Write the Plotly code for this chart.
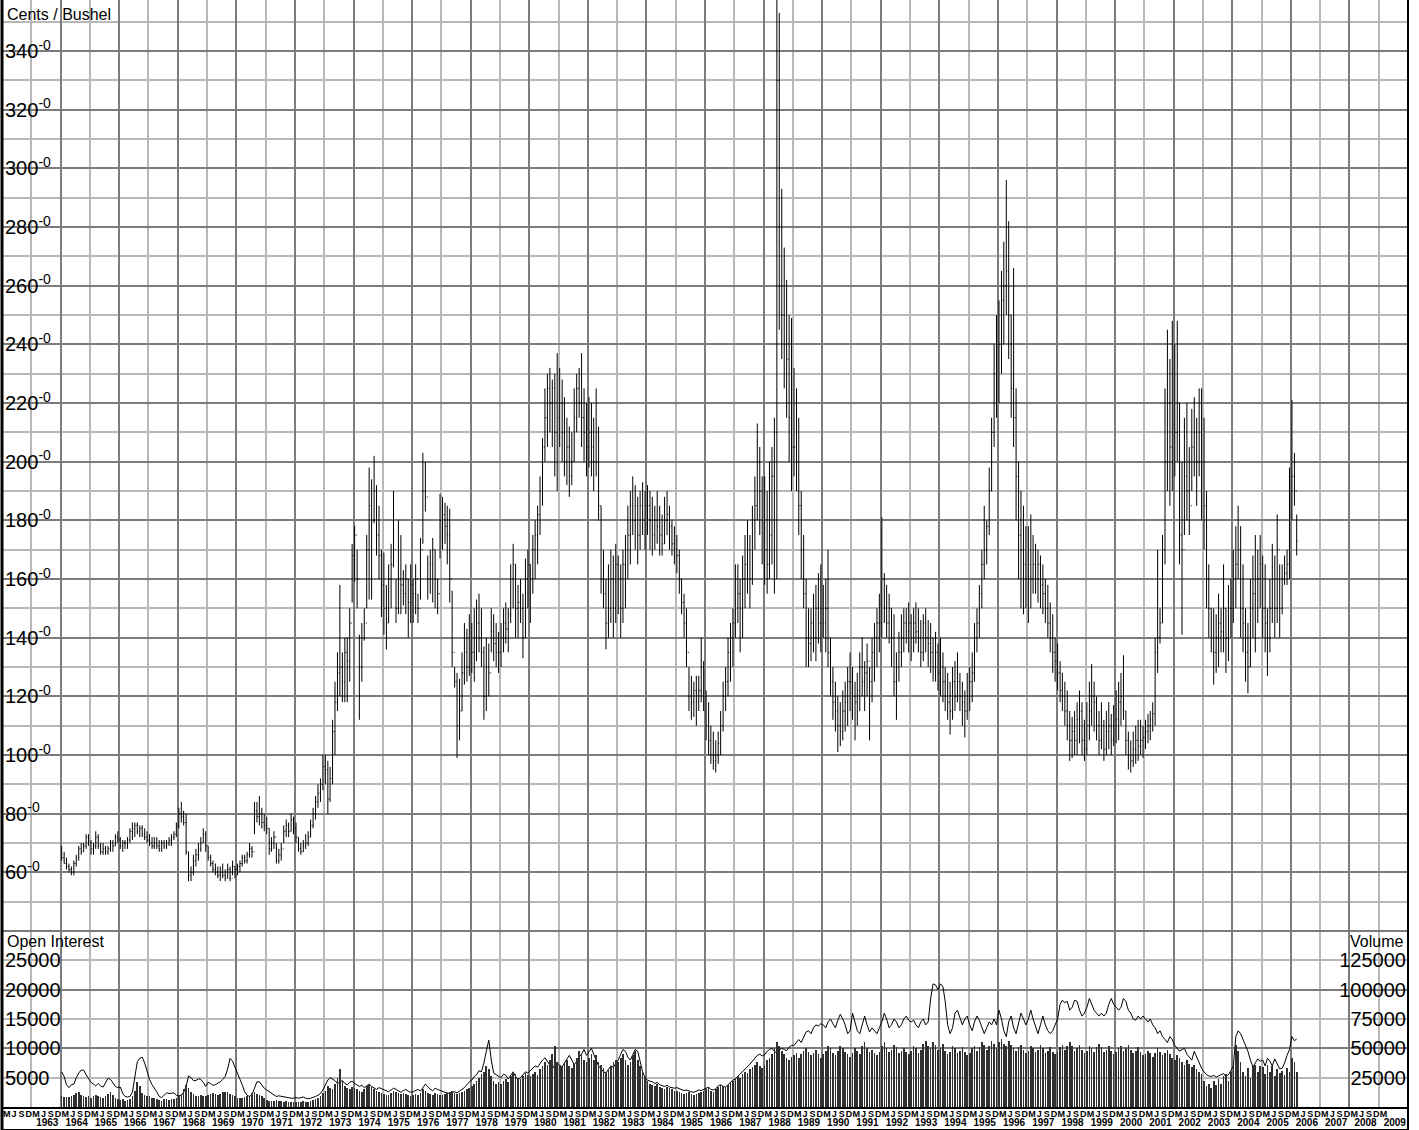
import pandas as pd
import plotly.graph_objects as go

# ---------------- data (monthly, Jan 1964 .. Mar 2006) ----------------
HIGH = [
    69, 67, 65, 63, 62, 64, 66, 69, 70, 70, 73, 73,            # 1964
    71, 70, 74, 73, 70, 70, 69, 69, 71, 71, 73, 74,            # 1965
    72, 71, 71, 72, 75, 77, 77, 77, 76, 76, 75, 74,            # 1966
    73, 72, 72, 72, 71, 71, 71, 71, 72, 73, 74, 77,            # 1967
    82, 84, 81, 80, 67, 62, 66, 68, 70, 72, 75, 74,            # 1968
    69, 66, 64, 63, 62, 62, 63, 61, 63, 62, 64, 62,            # 1969
    63, 64, 66, 66, 67, 70, 69, 84, 84, 86, 82, 80,            # 1970
    79, 75, 72, 74, 70, 68, 70, 76, 78, 77, 80, 79,            # 1971
    77, 72, 70, 71, 73, 74, 78, 82, 86, 90, 92, 100,           # 1972
    100, 98, 96, 112, 125, 135, 158, 135, 140, 140, 150, 172,  # 1973
    178, 170, 141, 145, 150, 175, 198, 194, 202, 192, 185, 170,  # 1974
    169, 158, 165, 172, 190, 160, 180, 175, 163, 165, 160, 165,  # 1975
    160, 165, 155, 174, 203, 200, 168, 170, 174, 170, 160, 189,  # 1976
    188, 186, 185, 184, 156, 130, 128, 126, 135, 145, 143, 148,  # 1977
    145, 150, 153, 155, 150, 137, 140, 138, 150, 148, 145, 142,  # 1978
    145, 150, 152, 150, 165, 172, 165, 158, 160, 155, 167, 170,  # 1979
    165, 175, 180, 185, 195, 208, 225, 230, 232, 228, 230, 237,  # 1980
    232, 228, 222, 215, 212, 210, 225, 230, 232, 237, 225, 220,  # 1981
    222, 220, 215, 225, 212, 185, 170, 160, 165, 170, 168, 172,  # 1982
    168, 165, 170, 175, 185, 190, 195, 192, 188, 190, 193, 190,  # 1983
    192, 190, 188, 185, 190, 185, 182, 188, 190, 185, 180, 178,  # 1984
    175, 170, 160, 155, 150, 130, 127, 125, 127, 127, 140, 132,  # 1985
    122, 118, 110, 108, 105, 108, 115, 125, 130, 140, 145, 150,  # 1986
    165, 165, 160, 168, 175, 180, 175, 185, 195, 213, 205, 195,  # 1987
    195, 190, 200, 205, 215, 370, 353, 293, 273, 262, 250, 249,  # 1988
    232, 225, 215, 190, 175, 160, 150, 150, 155, 158, 162, 165,  # 1989
    158, 160, 170, 140, 130, 125, 120, 118, 122, 125, 130, 135,  # 1990
    130, 125, 128, 135, 140, 132, 138, 130, 140, 145, 150, 155,  # 1991
    181, 162, 158, 155, 150, 148, 135, 142, 148, 150, 150, 152,  # 1992
    148, 150, 152, 150, 146, 148, 150, 146, 145, 140, 142, 138,  # 1993
    140, 135, 130, 128, 125, 130, 132, 135, 128, 125, 122, 128,  # 1994
    130, 135, 145, 150, 158, 170, 185, 180, 198, 215, 240, 250,  # 1995
    255, 265, 275, 296, 282, 250, 266, 225, 200, 190, 185, 178,  # 1996
    178, 182, 175, 172, 170, 168, 165, 160, 158, 152, 148, 140,  # 1997
    138, 132, 128, 125, 122, 115, 113, 115, 118, 122, 118, 112,  # 1998
    118, 125, 131, 125, 120, 115, 118, 112, 115, 118, 114, 117,  # 1999
    122, 125, 128, 134, 115, 108, 105, 108, 110, 112, 112, 110,  # 2000
    112, 114, 115, 118, 140, 170, 150, 175, 225, 245, 235, 248,  # 2001
    240, 248, 220, 200, 215, 220, 205, 218, 222, 215, 225, 225,  # 2002
    215, 190, 165, 150, 150, 148, 155, 150, 165, 150, 158, 160,  # 2003
    170, 178, 185, 178, 165, 150, 145, 160, 168, 175, 170, 175,  # 2004
    168, 165, 150, 160, 172, 168, 182, 165, 165, 168, 170, 198,  # 2005
    221, 203, 182,                                              # 2006
]
LOW = [
    64, 63, 61, 60, 59, 59, 62, 64, 66, 67, 68, 69,            # 1964
    66, 66, 68, 68, 66, 66, 66, 66, 67, 67, 69, 70,            # 1965
    68, 67, 68, 68, 70, 71, 72, 73, 72, 72, 71, 70,            # 1966
    69, 68, 68, 68, 67, 67, 68, 68, 69, 69, 71, 72,            # 1967
    75, 77, 76, 66, 57, 57, 59, 62, 64, 67, 70, 67,            # 1968
    64, 62, 60, 59, 58, 57, 58, 57, 58, 57, 59, 58,            # 1969
    59, 60, 62, 63, 63, 65, 65, 73, 77, 76, 75, 74,            # 1970
    73, 66, 67, 68, 63, 63, 64, 70, 72, 72, 74, 73,            # 1971
    70, 67, 66, 67, 68, 69, 72, 75, 78, 82, 84, 88,            # 1972
    90, 80, 84, 90, 100, 115, 120, 118, 118, 118, 125, 152,    # 1973
    159, 150, 112, 125, 139, 150, 153, 153, 179, 168, 160, 147,  # 1974
    141, 136, 145, 150, 164, 145, 148, 148, 151, 148, 140, 145,  # 1975
    145, 148, 145, 153, 172, 183, 153, 155, 152, 150, 148, 167,  # 1976
    170, 172, 165, 152, 130, 123, 99, 105, 115, 124, 125, 127,   # 1977
    128, 125, 132, 135, 130, 112, 115, 120, 135, 132, 130, 128,  # 1978
    130, 135, 138, 135, 145, 150, 140, 140, 145, 133, 140, 150,  # 1979
    145, 155, 160, 165, 175, 185, 200, 205, 210, 205, 195, 190,  # 1980
    205, 200, 195, 192, 188, 192, 200, 210, 215, 205, 200, 195,  # 1981
    198, 195, 190, 195, 180, 155, 150, 136, 140, 145, 140, 145,  # 1982
    148, 140, 145, 150, 160, 165, 175, 170, 165, 170, 175, 170,  # 1983
    175, 170, 168, 170, 172, 168, 168, 172, 175, 170, 168, 165,  # 1984
    162, 155, 148, 140, 130, 115, 112, 113, 110, 115, 118, 115,  # 1985
    105, 100, 97, 95, 94, 97, 100, 108, 115, 120, 125, 130,      # 1986
    140, 145, 135, 140, 150, 155, 150, 158, 170, 180, 175, 165,  # 1987
    158, 155, 160, 165, 155, 160, 245, 235, 225, 215, 200, 190,  # 1988
    195, 190, 175, 160, 150, 130, 130, 132, 135, 132, 138, 135,  # 1989
    140, 135, 130, 120, 112, 108, 101, 103, 105, 108, 110, 115,  # 1990
    112, 105, 110, 115, 120, 115, 120, 105, 118, 125, 130, 135,  # 1991
    140, 145, 140, 138, 130, 120, 112, 125, 130, 135, 138, 135,  # 1992
    132, 135, 138, 135, 130, 132, 135, 130, 128, 125, 125, 122,  # 1993
    120, 118, 115, 112, 107, 112, 115, 118, 115, 110, 106, 112,  # 1994
    115, 118, 125, 135, 140, 150, 160, 165, 175, 190, 205, 215,  # 1995
    220, 230, 240, 250, 235, 215, 205, 180, 160, 150, 148, 150,  # 1996
    145, 150, 155, 155, 152, 150, 148, 145, 140, 135, 128, 125,  # 1997
    122, 118, 115, 110, 105, 98, 99, 100, 100, 104, 100, 98,     # 1998
    100, 105, 110, 108, 105, 100, 102, 98, 100, 102, 100, 103,   # 1999
    104, 105, 110, 112, 100, 95, 94, 96, 97, 98, 100, 99,        # 2000
    102, 104, 105, 108, 110, 128, 138, 145, 165, 190, 185, 190,  # 2001
    195, 200, 165, 141, 175, 180, 175, 190, 195, 185, 195, 180,  # 2002
    170, 150, 140, 135, 124, 128, 130, 135, 135, 128, 132, 140,  # 2003
    145, 150, 160, 140, 135, 125, 121, 130, 140, 135, 145, 150,  # 2004
    140, 135, 127, 135, 145, 140, 145, 140, 148, 158, 158, 160,  # 2005
    180, 185, 168,                                              # 2006
]
CLOSE = [
    65, 63, 62, 61, 60, 63, 65, 68, 67, 69, 72, 70,            # 1964
    68, 69, 72, 69, 67, 68, 67, 68, 70, 69, 72, 71,            # 1965
    69, 70, 70, 71, 74, 75, 76, 74, 75, 73, 72, 71,            # 1966
    70, 69, 70, 69, 68, 70, 69, 70, 71, 72, 73, 76,            # 1967
    80, 79, 77, 67, 59, 60, 64, 66, 68, 70, 73, 69,            # 1968
    65, 63, 61, 60, 59, 60, 59, 58, 61, 58, 62, 61,            # 1969
    62, 63, 65, 64, 66, 68, 67, 81, 79, 80, 77, 76,            # 1970
    75, 68, 70, 72, 64, 66, 68, 74, 76, 74, 78, 75,            # 1971
    72, 68, 67, 69, 70, 72, 76, 80, 84, 87, 90, 96,            # 1972
    95, 85, 92, 108, 118, 128, 130, 125, 135, 132, 145, 168,   # 1973
    175, 160, 130, 140, 145, 170, 185, 180, 190, 175, 168, 158,  # 1974
    150, 145, 160, 165, 170, 150, 160, 158, 155, 160, 152, 158,  # 1975
    155, 160, 150, 170, 190, 188, 160, 165, 170, 160, 155, 180,  # 1976
    182, 178, 175, 160, 135, 125, 110, 115, 128, 135, 130, 140,  # 1977
    135, 140, 145, 140, 135, 120, 130, 128, 142, 138, 135, 135,  # 1978
    140, 145, 143, 148, 160, 165, 150, 152, 150, 140, 160, 165,  # 1979
    160, 170, 175, 182, 190, 205, 215, 225, 220, 225, 210, 215,  # 1980
    220, 210, 200, 205, 195, 200, 215, 225, 220, 215, 210, 205,  # 1981
    210, 205, 200, 210, 185, 160, 155, 145, 150, 160, 150, 165,  # 1982
    160, 150, 165, 170, 175, 185, 180, 185, 175, 185, 180, 185,  # 1983
    185, 180, 175, 180, 178, 175, 172, 180, 182, 178, 172, 170,  # 1984
    168, 160, 152, 145, 135, 120, 118, 122, 118, 122, 130, 120,  # 1985
    110, 105, 100, 98, 100, 104, 110, 120, 125, 135, 140, 145,   # 1986
    160, 155, 150, 160, 165, 170, 160, 180, 185, 200, 190, 180,  # 1987
    170, 165, 175, 195, 210, 330, 260, 250, 240, 235, 215, 205,  # 1988
    205, 200, 185, 170, 155, 140, 138, 145, 140, 150, 145, 150,  # 1989
    145, 150, 135, 125, 118, 115, 110, 108, 115, 118, 125, 125,  # 1990
    120, 118, 122, 130, 125, 128, 132, 125, 135, 140, 145, 145,  # 1991
    160, 150, 145, 150, 140, 125, 130, 135, 140, 145, 142, 145,  # 1992
    140, 145, 142, 140, 135, 145, 140, 138, 135, 130, 135, 128,  # 1993
    130, 125, 120, 118, 115, 125, 120, 125, 120, 118, 115, 120,  # 1994
    125, 128, 140, 145, 155, 165, 170, 178, 190, 210, 230, 240,  # 1995
    240, 255, 260, 265, 250, 225, 215, 195, 175, 170, 165, 160,  # 1996
    165, 160, 165, 160, 165, 158, 155, 150, 145, 140, 135, 132,  # 1997
    128, 122, 120, 115, 110, 105, 108, 105, 112, 115, 105, 102,  # 1998
    110, 115, 120, 118, 110, 105, 110, 102, 108, 110, 105, 110,  # 1999
    112, 118, 120, 115, 105, 100, 98, 102, 105, 103, 105, 106,   # 2000
    108, 110, 112, 114, 135, 140, 145, 170, 200, 220, 205, 230,  # 2001
    210, 220, 175, 170, 195, 190, 185, 205, 210, 200, 210, 200,  # 2002
    185, 160, 150, 140, 135, 140, 145, 142, 150, 140, 150, 150,  # 2003
    160, 165, 170, 150, 145, 135, 130, 150, 155, 160, 160, 165,  # 2004
    150, 145, 140, 150, 160, 150, 170, 150, 160, 162, 165, 190,  # 2005
    195, 190, 173,                                              # 2006
]
OPEN_INTEREST = [
    6000, 5200, 3800, 3300, 3800, 3900, 5000, 5800, 6300, 6300, 5500, 4800,          # 1964
    4200, 3900, 3600, 4000, 3600, 3400, 4200, 4900, 4700, 4000, 3500, 3300,          # 1965
    3400, 2300, 1800, 1700, 1800, 2500, 5000, 7700, 8300, 8500, 7500, 6000,          # 1966
    4700, 3800, 3300, 2600, 1800, 1600, 2000, 2400, 2300, 2300, 2400, 2000,          # 1967
    1900, 2000, 2500, 3500, 5300, 5000, 4500, 4500, 4800, 4700, 4200, 3500,          # 1968
    4200, 4000, 3700, 3800, 4000, 4300, 4700, 5200, 6500, 8300, 7800, 6800,          # 1969
    6000, 5000, 3800, 2600, 2000, 1800, 2100, 3200, 4300, 4300, 3800, 3200,          # 1970
    2900, 2600, 2400, 2100, 1800, 1900, 1800, 1700, 1700, 1600, 1500, 1500,          # 1971
    1600, 1500, 1600, 1700, 1500, 1400, 1500, 1600, 1800, 2000, 2300, 2900,          # 1972
    3800, 4600, 5000, 4800, 4500, 4000, 4300, 4500, 4000, 3800, 4200, 4400,          # 1973
    4000, 3800, 3500, 3700, 3300, 3600, 3900, 3500, 3200, 3000, 3300, 3100,          # 1974
    2900, 2700, 2600, 2900, 3200, 3000, 2700, 2500, 2800, 3000, 2700, 2500,          # 1975
    2600, 2800, 3000, 2700, 3300, 3900, 3500, 3000, 2800, 3200, 3000, 2800,          # 1976
    2600, 2500, 2400, 2300, 2500, 2600, 2400, 2700, 3000, 3300, 3800, 4300,          # 1977
    4600, 5200, 5500, 6200, 6000, 7500, 9500, 11400, 8000, 5800, 5500, 5300,         # 1978
    5000, 5600, 5400, 4800, 5500, 6000, 5200, 4600, 5000, 5600, 6000, 5800,          # 1979
    6200, 6500, 7000, 6800, 7500, 8000, 8400, 7800, 7000, 6500, 7200, 7600,          # 1980
    7000, 6800, 7500, 8200, 8800, 8000, 7200, 7800, 8600, 9000, 9800, 8800,          # 1981
    9500, 10000, 9000, 8000, 7000, 6500, 6000, 5800, 6500, 7000, 6800, 7500,         # 1982
    8000, 9000, 9800, 9500, 8500, 8000, 9000, 9800, 9500, 8000, 6000, 5000,          # 1983
    4600, 4400, 4300, 4000, 4200, 3800, 3600, 3500, 3700, 3400, 3300, 3200,          # 1984
    3300, 3100, 2900, 2800, 2900, 2700, 2600, 2500, 2700, 2900, 2800, 3000,          # 1985
    3200, 3400, 3000, 2900, 3100, 3600, 3800, 3500, 3400, 3800, 4200, 4600,          # 1986
    4800, 5200, 5600, 6000, 6500, 6800, 7300, 7800, 8300, 8800, 9000, 8700,          # 1987
    8900, 9500, 9800, 10000, 9500, 9200, 9700, 10000, 9800, 9600, 10200, 10500,      # 1988
    10500, 11000, 11500, 11000, 12000, 12800, 13000, 12500, 13500, 14000, 13800, 14200,  # 1989
    14000, 13500, 14500, 15000, 14200, 13500, 14800, 15800, 15000, 14000, 12500, 13000,  # 1990
    16000, 14500, 13000, 12500, 14000, 15500, 14000, 12800, 13500, 13000, 12500, 13500,  # 1991
    14500, 16000, 15000, 13500, 14000, 15000, 14500, 13500, 14000, 15000, 15500, 14800,  # 1992
    14500, 14800, 14000, 13500, 14500, 15000, 14000, 14500, 18500, 21000, 20800, 20000,  # 1993
    21000, 20500, 18000, 14000, 12500, 13500, 16000, 16500, 15000, 14000, 15000, 15500,  # 1994
    14000, 13000, 14500, 15500, 14800, 13500, 12500, 13500, 14500, 14000, 15000, 14000,  # 1995
    16500, 15000, 13000, 12000, 14500, 15500, 13500, 12500, 14500, 16000, 15000, 14000,  # 1996
    15000, 16500, 15000, 13500, 12500, 14000, 15500, 14000, 13000, 12500, 13000, 14000,  # 1997
    15000, 17500, 18200, 17800, 18000, 16500, 17000, 18200, 18000, 16500, 15500, 16000,  # 1998
    17000, 18500, 17500, 16500, 16000, 15500, 16000, 15500, 16000, 17500, 18500, 17500,  # 1999
    17000, 16500, 17000, 18500, 18000, 16500, 16000, 15000, 14800, 15500, 15000, 15500,  # 2000
    15000, 14500, 15000, 14000, 13500, 12500, 13000, 12000, 11500, 11000, 12000, 11500,  # 2001
    10500, 10000, 9500, 9800, 10000, 9000, 8500, 8000, 9500, 8500, 7500, 6600,       # 2002
    6000, 5500, 5300, 5200, 5400, 5100, 5300, 5500, 5700, 5200, 5500, 6200,          # 2003
    7000, 12000, 13000, 12500, 11500, 10500, 9500, 8000, 6800, 7500, 8200, 7800,     # 2004
    8000, 7000, 8300, 7800, 7000, 8200, 7200, 6500, 6600, 7500, 8800, 9800,          # 2005
    12000, 11300, 11600,                                                             # 2006
]
VOLUME = [
    9000, 8500, 8200, 8800, 9500, 10500, 12000, 12500, 10000, 9000, 8500, 9000,      # 1964
    8000, 9500, 10500, 9000, 8500, 8000, 9000, 11000, 12500, 10000, 8000, 7000,      # 1965
    6000, 6500, 5500, 6000, 7000, 9000, 14000, 21000, 18000, 12000, 10000, 9000,     # 1966
    9000, 8000, 7500, 7000, 6000, 5500, 6500, 7000, 6000, 6500, 7000, 8000,          # 1967
    9000, 11000, 15000, 19000, 16000, 13000, 11000, 9500, 9000, 10000, 9500, 9000,   # 1968
    10000, 11000, 12000, 11000, 10500, 11500, 12500, 13000, 12500, 11000, 10000, 9000,  # 1969
    8000, 7500, 8000, 8500, 9000, 9500, 12000, 13000, 11000, 10000, 9000, 8000,      # 1970
    6000, 5500, 5000, 5500, 6000, 5500, 5000, 4500, 5000, 4500, 4000, 4500,          # 1971
    4500, 4000, 4500, 5000, 4500, 4000, 5000, 6000, 7000, 8000, 9000, 12000,         # 1972
    14000, 18000, 16000, 15000, 20000, 25000, 32000, 22000, 18000, 16000, 15000, 17000,  # 1973
    16000, 15000, 14000, 13000, 15000, 18000, 20000, 17000, 15000, 14000, 13000, 12000,  # 1974
    11000, 10000, 10500, 12000, 14000, 13000, 12000, 11000, 12000, 11000, 10000, 9500,   # 1975
    10000, 11000, 10500, 12000, 15000, 14000, 12000, 11000, 10500, 12000, 11000, 10000,  # 1976
    10000, 11000, 12000, 13000, 14000, 12000, 11000, 12000, 13000, 14000, 15000, 16000,  # 1977
    18000, 20000, 22000, 25000, 28000, 30000, 35000, 32000, 26000, 22000, 20000, 21000,  # 1978
    20000, 22000, 24000, 21000, 26000, 30000, 28000, 25000, 24000, 26000, 29000, 27000,  # 1979
    26000, 28000, 30000, 27000, 32000, 35000, 38000, 36000, 40000, 45000, 52000, 38000,  # 1980
    36000, 34000, 38000, 40000, 35000, 33000, 37000, 42000, 48000, 45000, 40000, 38000,  # 1981
    42000, 45000, 40000, 44000, 38000, 36000, 33000, 30000, 32000, 35000, 38000, 40000,  # 1982
    38000, 42000, 45000, 40000, 36000, 38000, 44000, 48000, 40000, 35000, 30000, 26000,  # 1983
    22000, 20000, 19000, 18000, 20000, 17000, 16000, 15000, 17000, 16000, 15000, 14000,  # 1984
    14000, 13000, 12000, 11000, 12000, 13000, 11000, 10000, 11000, 12000, 13000, 14000,  # 1985
    15000, 16000, 14000, 13000, 15000, 17000, 19000, 18000, 17000, 19000, 21000, 22000,  # 1986
    24000, 26000, 25000, 28000, 30000, 29000, 32000, 34000, 36000, 38000, 35000, 33000,  # 1987
    36000, 40000, 42000, 45000, 50000, 55000, 52000, 48000, 45000, 42000, 40000, 43000,  # 1988
    44000, 46000, 42000, 45000, 48000, 50000, 47000, 44000, 46000, 49000, 45000, 42000,  # 1989
    45000, 48000, 52000, 50000, 46000, 44000, 48000, 52000, 50000, 47000, 45000, 43000,  # 1990
    46000, 50000, 48000, 45000, 52000, 55000, 50000, 47000, 49000, 46000, 44000, 47000,  # 1991
    52000, 55000, 50000, 47000, 49000, 53000, 51000, 46000, 48000, 50000, 47000, 45000,  # 1992
    48000, 52000, 50000, 46000, 49000, 54000, 56000, 52000, 50000, 55000, 53000, 49000,  # 1993
    50000, 54000, 48000, 45000, 47000, 52000, 50000, 46000, 48000, 51000, 47000, 44000,  # 1994
    46000, 50000, 52000, 48000, 51000, 55000, 53000, 49000, 52000, 56000, 54000, 50000,  # 1995
    55000, 58000, 54000, 52000, 56000, 53000, 50000, 48000, 51000, 53000, 49000, 46000,  # 1996
    48000, 52000, 50000, 47000, 49000, 53000, 50000, 46000, 48000, 51000, 47000, 45000,  # 1997
    47000, 51000, 53000, 49000, 52000, 55000, 52000, 48000, 50000, 53000, 49000, 46000,  # 1998
    48000, 52000, 50000, 47000, 51000, 54000, 51000, 47000, 49000, 52000, 48000, 45000,  # 1999
    47000, 50000, 52000, 48000, 50000, 53000, 49000, 46000, 48000, 51000, 47000, 44000,  # 2000
    45000, 48000, 46000, 43000, 46000, 50000, 47000, 44000, 46000, 49000, 45000, 42000,  # 2001
    40000, 44000, 42000, 38000, 36000, 40000, 37000, 34000, 36000, 32000, 30000, 28000,  # 2002
    22000, 18000, 20000, 16000, 22000, 19000, 24000, 20000, 26000, 28000, 22000, 30000,  # 2003
    35000, 53000, 48000, 38000, 30000, 26000, 33000, 25000, 34000, 36000, 30000, 35000,  # 2004
    34000, 28000, 36000, 30000, 35000, 26000, 32000, 29000, 31000, 27000, 33000, 30000,  # 2005
    42000, 38000, 30000,                                                             # 2006
]

PRICE_TICKS = list(range(60, 341, 20))
OI_TICKS = [5000, 10000, 15000, 20000, 25000]
VOL_TICKS = [25000, 50000, 75000, 100000, 125000]
MONTH_LETTERS = ["M", "J", "S", "D"]
YEARS = list(range(1963, 2010))

# ---------------- derived positions ----------------
dates = pd.date_range("1964-01-01", periods=len(CLOSE), freq="MS") + pd.Timedelta(days=14)
OPEN = [CLOSE[0]] + CLOSE[:-1]  # bar opens at previous month's settlement

month_vals, month_txt = [], []
for y in range(1962, 2010):
    for i, m in enumerate([3, 6, 9, 12]):
        if y == 2009 and m > 3:
            break
        month_vals.append(f"{y}-{m:02d}-01")
        month_txt.append(f"<b>{MONTH_LETTERS[i]}</b>")
year_vals = [f"{y}-07-20" for y in YEARS]
year_txt = [f"<b>{y}</b>" for y in YEARS]
odd_year_lines = [f"{y}-01-01" for y in range(1963, 2010, 2)]
even_year_lines = [f"{y}-01-01" for y in range(1964, 2010, 2)]

FONT = "Liberation Sans, Arial, Helvetica, sans-serif"
DARK = "#7c7c7c"
LIGHT = "#b8b8b8"
XR = ["1962-01-01", "2010-01-01"]
P_RANGE = [-20, 357.4]
OI_RANGE = [0, (P_RANGE[1] - P_RANGE[0]) * 500]
VOL_RANGE = [0, (P_RANGE[1] - P_RANGE[0]) * 2500]
TICKFONT = dict(size=20, family=FONT, color="black")

fig = go.Figure()
fig.add_trace(go.Bar(x=dates, y=VOLUME, xaxis="x2", yaxis="y4",
                     marker=dict(color="#303030", line=dict(width=0)),
                     width=8 * 86400000, hoverinfo="skip"))
fig.add_trace(go.Scatter(x=dates, y=OPEN_INTEREST, yaxis="y3", mode="lines",
                         line=dict(color="black", width=1), hoverinfo="skip"))
fig.add_trace(go.Ohlc(x=dates, open=OPEN, high=HIGH, low=LOW, close=CLOSE, tickwidth=0.35,
                      increasing=dict(line=dict(color="black", width=1)),
                      decreasing=dict(line=dict(color="black", width=1)), hoverinfo="skip"))

price_major = list(range(0, 341, 20))
price_text = [f"{v}<sup>-0</sup>" if v >= 60 else "" for v in price_major]

fig.update_layout(
    width=1419, height=1130,
    margin=dict(l=2, r=11, t=0, b=23, autoexpand=False),
    paper_bgcolor="white", plot_bgcolor="white",
    showlegend=False, bargap=0,
    font=dict(family=FONT, color="black"),
    xaxis=dict(type="date", range=XR, tickmode="array", tickvals=month_vals, ticktext=month_txt,
               tickangle=0, ticks="", ticklen=0, showgrid=False, zeroline=False, automargin=False,
               tickfont=dict(size=9, family=FONT, color="black"), ticklabelstandoff=-3,
               showline=True, linecolor="black", linewidth=2,
               rangeslider=dict(visible=False),
               minor=dict(tickmode="array", tickvals=odd_year_lines, showgrid=True,
                          gridcolor=LIGHT, gridwidth=1.5, ticks="")),
    xaxis2=dict(type="date", range=XR, overlaying="x", anchor="y", side="bottom",
                tickmode="array", tickvals=year_vals, ticktext=year_txt, tickangle=0,
                ticks="", ticklen=0, showgrid=False, zeroline=False, automargin=False,
                ticklabelstandoff=8, tickfont=dict(size=10, family=FONT, color="black"),
                minor=dict(tickmode="array", tickvals=even_year_lines, showgrid=True,
                           gridcolor=DARK, gridwidth=1.5, ticks="")),
    yaxis=dict(range=P_RANGE, tickmode="array", tickvals=price_major, ticktext=price_text,
               ticks="", ticklen=0, side="right", anchor="free", position=0,
               showgrid=True, gridcolor=DARK, gridwidth=1.5, zeroline=False, automargin=False,
               tickfont=TICKFONT, ticklabelstandoff=2,
               minor=dict(tickmode="array", tickvals=list(range(-10, 351, 20)), showgrid=True,
                          gridcolor=LIGHT, gridwidth=1.5, ticks="")),
    yaxis2=dict(range=P_RANGE, overlaying="y", side="left", anchor="free", position=1,
                tickmode="array", tickvals=PRICE_TICKS,
                ticktext=[f"{v}<sup>-0</sup>" for v in PRICE_TICKS],
                ticks="", ticklen=0, showgrid=False, zeroline=False, automargin=False,
                tickfont=TICKFONT, ticklabelstandoff=2),
    yaxis3=dict(range=OI_RANGE, overlaying="y", side="right", anchor="free", position=0,
                tickmode="array", tickvals=OI_TICKS, ticktext=[str(v) for v in OI_TICKS],
                ticks="", ticklen=0, showgrid=False, zeroline=False, automargin=False,
                tickfont=TICKFONT, ticklabelstandoff=2),
    yaxis4=dict(range=VOL_RANGE, overlaying="y", side="left", anchor="free", position=1,
                tickmode="array", tickvals=VOL_TICKS, ticktext=[str(v) for v in VOL_TICKS],
                ticks="", ticklen=0, showgrid=False, zeroline=False, automargin=False,
                tickfont=TICKFONT, ticklabelstandoff=2),
)

bottom = -23 / 1107
fig.add_shape(type="line", xref="paper", yref="paper", x0=0, x1=0, y0=bottom, y1=1,
              line=dict(color="black", width=3))
fig.add_shape(type="line", xref="paper", yref="paper", x0=1, x1=1, y0=bottom, y1=1,
              line=dict(color="black", width=2))
fig.add_shape(type="line", xref="paper", yref="paper", x0=0, x1=1, y0=bottom, y1=bottom,
              line=dict(color="black", width=2))

fig.add_annotation(text="Cents / Bushel", xref="paper", yref="paper", x=0.002, y=1 - 15 / 1107,
                   xanchor="left", yanchor="middle", showarrow=False,
                   font=dict(size=16, family=FONT, color="black"))
fig.add_annotation(text="Open Interest", xref="paper", yref="paper", x=0.002, y=1 - 941 / 1107,
                   xanchor="left", yanchor="middle", showarrow=False,
                   font=dict(size=16, family=FONT, color="black"))
fig.add_annotation(text="Volume", xref="paper", yref="paper", x=0.998, y=1 - 941 / 1107,
                   xanchor="right", yanchor="middle", showarrow=False,
                   font=dict(size=16, family=FONT, color="black"))

fig.write_html("out.html", config={"displayModeBar": False},
               post_script="document.body.style.margin='0';")
